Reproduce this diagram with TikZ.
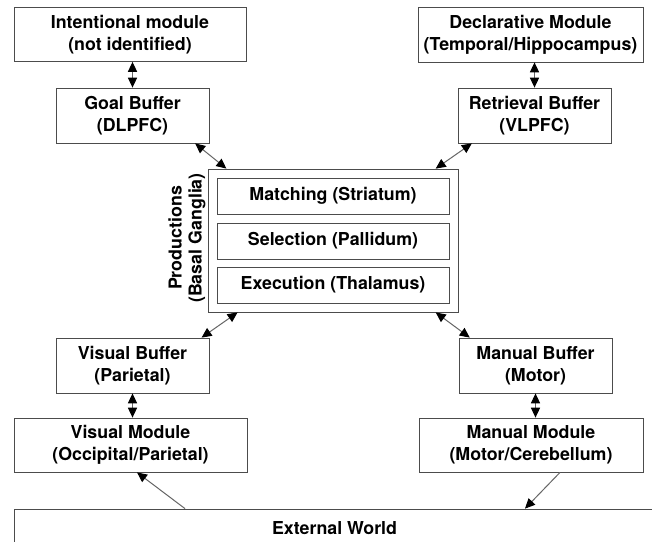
\documentclass[tikz,border=0pt]{standalone}
\usepackage{fontspec}
\setmainfont{TeX Gyre Heros}
\usetikzlibrary{arrows.meta}

\begin{document}
\begin{tikzpicture}[x=0.5pt,y=-0.5pt,
  box/.style={draw=black!70,fill=white,align=center,inner sep=0pt,
    minimum height=27.5pt,font=\fontsize{8.9}{11}\selectfont\bfseries},
  stage/.style={box,minimum width=116pt,minimum height=18pt},
  link/.style={draw=black!60,line width=0.5pt,{Triangle[length=5pt,width=4.6pt,color=black]}-{Triangle[length=5pt,width=4.6pt,color=black]}},
  feed/.style={draw=black!60,line width=0.5pt,-{Triangle[length=5pt,width=4.6pt,color=black]}}]
  \clip (0,0) rectangle (652,541);
  \fill[white] (0,0) rectangle (652,541);

  % modules and buffers
  \node[box,minimum width=116pt,minimum height=27pt] (intent) at (130,34.5) {Intentional module\\(not identified)};
  \node[box,minimum width=76.5pt] (goal) at (132.5,115.5) {Goal Buffer\\(DLPFC)};
  \node[box,minimum width=112.5pt] (decl) at (530.5,34.5) {Declarative Module\\(Temporal/Hippocampus)};
  \node[box,minimum width=76.5pt] (retr) at (534.5,115.5) {Retrieval Buffer\\(VLPFC)};
  \node[box,minimum width=76.5pt] (vbuf) at (132.5,365.5) {Visual Buffer\\(Parietal)};
  \node[box,minimum width=116.5pt,minimum height=27pt] (vmod) at (130.5,445) {Visual Module\\(Occipital/Parietal)};
  \node[box,minimum width=76.5pt] (mbuf) at (535.5,365.5) {Manual Buffer\\(Motor)};
  \node[box,minimum width=112pt,minimum height=27pt] (mmod) at (531,445) {Manual Module\\(Motor/Cerebellum)};
  \node[box,minimum width=320.5pt,minimum height=19.5pt] (world) at (334.5,528.5) {External World};

  % productions
  \node[box,minimum width=125pt,minimum height=71.5pt] (prod) at (333,240.5) {};
  \node[stage] (match) at (333,196) {Matching (Striatum)};
  \node[stage] (select) at (333,241) {Selection (Pallidum)};
  \node[stage] (exec) at (333,285) {Execution (Thalamus)};
  \node[rotate=90,align=center,font=\fontsize{8.9}{10}\selectfont\bfseries] (prodlabel) at (187,238) {Productions\\(Basal Ganglia)};

  % connectors
  \draw[link] (goal.north) -- (goal.north |- intent.south);
  \draw[link] (retr.north) -- (retr.north |- decl.south);
  \draw[link] (vbuf.south) -- (vbuf.south |- vmod.north);
  \draw[link] (mbuf.south) -- (mbuf.south |- mmod.north);
  \draw[link] (goal.-24.4) -- (prod.146);
  \draw[link] (retr.-156.3) -- (prod.35.6);
  \draw[link] (vbuf.22.2) -- (prod.-143.6);
  \draw[link] (mbuf.157.2) -- (prod.-35.6);
  \draw[feed] ([xshift=-74.75pt]world.north) -- ([xshift=3.25pt]vmod.south);
  \draw[feed] ([xshift=14.5pt]mmod.south) -- ([xshift=95.25pt]world.north);
\end{tikzpicture}
\end{document}
